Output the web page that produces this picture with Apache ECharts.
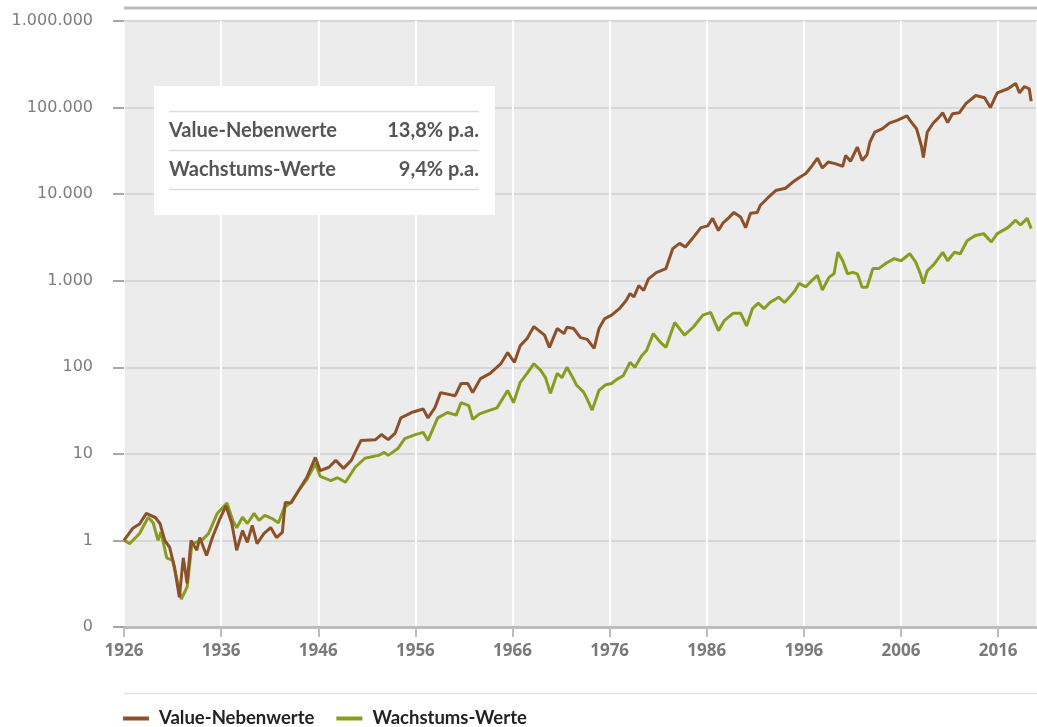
<!DOCTYPE html>
<html>
<head>
<meta charset="utf-8">
<script src="https://cdn.jsdelivr.net/npm/echarts@6/dist/echarts.min.js"></script>
<style>html,body{margin:0;padding:0;background:#fff;}#c{width:1037px;height:727px;}</style>
</head>
<body>
<div id="c"></div>
<script>
// ---- data ----
var seriesNames = ['Value-Nebenwerte', 'Wachstums-Werte'];
var xTickBaseYear = 1926;
var yTickLabels = ['0', '1', '10', '100', '1.000', '10.000', '100.000', '1.000.000'];
var insetRates = ['13,8% p.a.', '9,4% p.a.'];

var valueYears = [1926.0,1926.9,1927.6,1928.3,1929.2,1929.7,1930.2,1930.7,1931.2,1931.7,1932.1,1932.5,1932.9,1933.5,1933.8,1934.5,1935.1,1935.8,1936.5,1937.1,1937.6,1938.2,1938.7,1939.2,1939.7,1940.4,1941.1,1941.7,1942.3,1942.6,1943.2,1944.0,1944.8,1945.7,1946.2,1947.1,1947.8,1948.6,1949.4,1950.4,1951.9,1952.5,1953.2,1953.9,1954.5,1955.6,1956.8,1957.3,1958.0,1958.6,1960.1,1960.7,1961.4,1961.9,1962.7,1963.7,1964.8,1965.5,1966.2,1966.8,1967.5,1968.2,1969.3,1969.8,1970.6,1971.3,1971.6,1972.3,1973.0,1973.7,1974.4,1974.9,1975.5,1976.2,1977.0,1977.7,1978.1,1978.5,1979.0,1979.5,1980.0,1980.8,1981.8,1982.5,1983.2,1983.8,1984.6,1985.4,1986.1,1986.6,1987.2,1987.7,1988.2,1988.8,1989.5,1990.0,1990.5,1991.2,1991.5,1992.3,1993.1,1994.1,1994.8,1995.5,1996.2,1996.7,1997.4,1997.9,1998.5,1999.2,2000.0,2000.3,2000.8,2001.5,2002.0,2002.5,2002.8,2003.3,2004.1,2004.8,2005.6,2006.6,2007.1,2007.6,2008.1,2008.3,2008.7,2009.3,2009.8,2010.3,2010.8,2011.3,2012.0,2012.7,2013.7,2014.6,2015.2,2015.9,2017.0,2017.8,2018.2,2018.7,2019.2,2019.4];
var valueIdx = [1.0,1.38,1.55,2.05,1.85,1.57,1.0,0.83,0.49,0.22,0.63,0.32,1.0,0.77,1.08,0.67,1.08,1.7,2.5,1.57,0.77,1.3,0.95,1.49,0.92,1.2,1.41,1.08,1.24,2.75,2.7,3.8,5.3,9.1,6.4,7,8.4,6.8,8.4,14.3,14.6,16.7,14.6,17.2,26,30,33,26,34,51,47,65,65,51,74,85,110,148,114,178,215,295,235,170,280,245,290,280,220,210,165,280,365,400,475,590,710,650,880,770,1050,1240,1380,2350,2700,2450,3150,4100,4300,5250,3800,4700,5250,6150,5400,4100,6000,6150,7400,9100,11000,11700,13600,15500,17300,20300,26000,20000,23500,22500,21000,28000,24000,35000,24500,28500,40000,52000,57000,66000,71000,80000,67000,57000,36000,26500,52000,66000,75000,87000,67000,85000,87000,112000,138000,130000,100000,148000,165000,190000,148000,175000,165000,118000];

var growthYears = [1926.0,1926.6,1927.6,1928.5,1929.0,1929.5,1929.8,1930.4,1931.0,1931.9,1932.5,1933.0,1934.0,1934.7,1935.6,1936.6,1937.2,1937.6,1938.2,1938.7,1939.4,1939.9,1940.5,1941.2,1941.9,1942.5,1943.2,1944.0,1944.8,1945.7,1946.2,1947.3,1948.0,1948.8,1949.8,1950.8,1952.2,1952.8,1953.2,1954.2,1954.9,1956.0,1956.8,1957.3,1958.3,1959.3,1960.2,1960.7,1961.5,1961.9,1962.6,1963.7,1964.4,1965.5,1966.1,1966.8,1967.5,1968.2,1968.9,1969.4,1969.9,1970.6,1971.1,1971.6,1972.1,1972.6,1973.3,1973.6,1974.2,1974.9,1975.6,1976.2,1976.7,1977.4,1978.1,1978.6,1979.3,1979.8,1980.5,1981.2,1981.8,1982.7,1983.7,1984.6,1985.6,1986.4,1987.2,1987.8,1988.7,1989.5,1990.1,1990.7,1991.3,1991.9,1992.5,1993.4,1994.0,1994.5,1995.1,1995.5,1996.2,1996.8,1997.4,1997.9,1998.6,1999.1,1999.5,2000.0,2000.5,2001.0,2001.5,2002.0,2002.5,2003.1,2003.7,2004.5,2005.3,2006.0,2006.9,2007.5,2008.0,2008.3,2008.7,2009.4,2010.3,2010.8,2011.5,2012.1,2012.8,2013.6,2014.5,2015.3,2015.9,2017.0,2017.8,2018.3,2019.0,2019.4];
var growthIdx = [1.0,0.92,1.2,1.85,1.6,1.0,1.25,0.63,0.59,0.21,0.29,0.92,1.0,1.2,2.05,2.7,1.7,1.4,1.85,1.57,2.05,1.7,1.95,1.8,1.6,2.4,2.75,3.8,5.0,7.7,5.5,4.9,5.3,4.7,7,8.9,9.6,10.4,9.6,11.5,15,16.7,17.7,14.3,26,30,28,39,36,25,29,32,34,54,39,67,85,110,92,76,50,85,76,100,80,62,52,45,32,54,63,65,72,80,114,100,136,156,245,195,170,330,235,290,400,430,265,345,420,420,300,475,550,475,560,645,560,645,770,930,850,1000,1150,780,1100,1200,2130,1700,1200,1250,1200,840,840,1380,1380,1600,1800,1700,2050,1650,1200,930,1300,1550,2130,1700,2130,2050,2900,3300,3500,2800,3500,4100,5000,4400,5250,4000];

// ---- build ----
function pairs(years, vals) {
  return years.map(function (y, i) { return [y - xTickBaseYear, vals[i]]; });
}
var brown = '#8c5128';
var green = '#8a9c1f';
var insetFont = 'bold 20px Lato';

var chart = echarts.init(document.getElementById('c'), null, {renderer: 'canvas'});
chart.setOption({
  animation: false,
  backgroundColor: '#ffffff',
  grid: {
    left: 124, right: -6, top: 21, bottom: 100,
    show: true, backgroundColor: '#ececec', borderWidth: 0
  },
  xAxis: {
    type: 'value', min: 0, max: 94, interval: 10,
    axisLine: {show: true, lineStyle: {color: '#bdbdbd', width: 3}},
    axisTick: {show: true, length: 10, lineStyle: {color: '#bdbdbd', width: 2}},
    axisLabel: {
      margin: 16, showMaxLabel: false,
      color: '#7a7a7a', fontFamily: 'Open Sans', fontWeight: 'bold', fontSize: 17,
      formatter: function (v) { return String(Math.round(v + xTickBaseYear)); }
    },
    splitLine: {show: true, lineStyle: {color: '#ffffff', width: 2}}
  },
  yAxis: {
    type: 'log', logBase: 10, min: 0.1, max: 1000000, offset: 6,
    axisLine: {show: false},
    axisTick: {show: true, length: 11, lineStyle: {color: '#8a8a8a', width: 1.5}},
    axisLabel: {
      margin: 25, color: '#7d7d7d', fontFamily: 'DejaVu Sans', fontSize: 16,
      formatter: function (v) {
        var e = Math.round(Math.log(v) / Math.LN10);
        return yTickLabels[e + 1] !== undefined ? yTickLabels[e + 1] : '';
      }
    },
    splitLine: {show: true, lineStyle: {color: '#d7d7d7', width: 2}},
    minorTick: {show: false}
  },
  legend: {
    data: seriesNames,
    left: 118, top: 704,
    itemWidth: 26, itemHeight: 4, itemGap: 22,
    icon: 'rect',
    textStyle: {color: '#222', fontFamily: 'Lato', fontWeight: 'bold', fontSize: 18.5, padding: [0, 0, 0, 5]}
  },
  series: [
    {
      name: seriesNames[0], type: 'line', data: pairs(valueYears, valueIdx),
      showSymbol: false, symbol: 'none', z: 4,
      itemStyle: {color: brown},
      lineStyle: {color: brown, width: 3}
    },
    {
      name: seriesNames[1], type: 'line', data: pairs(growthYears, growthIdx),
      showSymbol: false, symbol: 'none', z: 3,
      itemStyle: {color: green},
      lineStyle: {color: green, width: 3}
    }
  ],
  graphic: [
    {type: 'line', shape: {x1: 124, y1: 8, x2: 1037, y2: 8}, style: {stroke: '#bcbcbc', lineWidth: 3}, silent: true, z: 100},
    {type: 'line', shape: {x1: 124, y1: 693.5, x2: 1037, y2: 693.5}, style: {stroke: '#e2e2e2', lineWidth: 1.5}, silent: true, z: 100},
    {type: 'rect', shape: {x: 154, y: 86, width: 341, height: 129}, style: {fill: '#ffffff'}, z: 100, silent: true},
    {type: 'line', shape: {x1: 169, y1: 111.5, x2: 479, y2: 111.5}, style: {stroke: '#dedede', lineWidth: 1.5}, z: 101, silent: true},
    {type: 'line', shape: {x1: 169, y1: 150.5, x2: 479, y2: 150.5}, style: {stroke: '#dedede', lineWidth: 1.5}, z: 101, silent: true},
    {type: 'line', shape: {x1: 169, y1: 189.5, x2: 479, y2: 189.5}, style: {stroke: '#dedede', lineWidth: 1.5}, z: 101, silent: true},
    {type: 'text', x: 169, y: 131, z: 102, silent: true, style: {text: seriesNames[0], fill: '#555', font: insetFont, textAlign: 'left', textVerticalAlign: 'middle'}},
    {type: 'text', x: 479, y: 131, z: 102, silent: true, style: {text: insetRates[0], fill: '#555', font: insetFont, textAlign: 'right', textVerticalAlign: 'middle'}},
    {type: 'text', x: 169, y: 170, z: 102, silent: true, style: {text: seriesNames[1], fill: '#555', font: insetFont, textAlign: 'left', textVerticalAlign: 'middle'}},
    {type: 'text', x: 479, y: 170, z: 102, silent: true, style: {text: insetRates[1], fill: '#555', font: insetFont, textAlign: 'right', textVerticalAlign: 'middle'}}
  ]
});
</script>
</body>
</html>
